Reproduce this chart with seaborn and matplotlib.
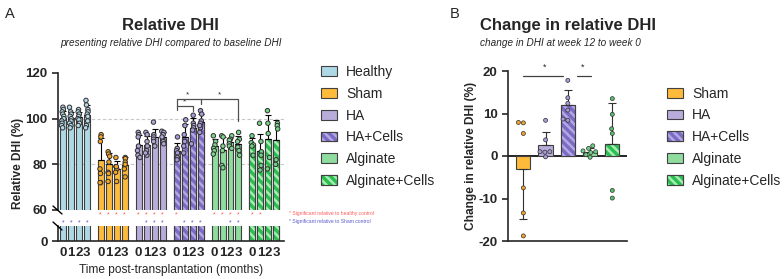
import numpy as np
import pandas as pd
import matplotlib
matplotlib.use('Agg')
import matplotlib.pyplot as plt
import matplotlib.transforms as mtrans
from matplotlib.patches import Patch, Rectangle
from matplotlib.lines import Line2D
from matplotlib.legend_handler import HandlerTuple
import seaborn as sns

# ---------------- data ----------------
groups = ['Healthy', 'Sham', 'HA', 'HA+Cells', 'Alginate', 'Alginate+Cells']
months = [0, 1, 2, 3]
month_labels = ['0', '1', '2', '3']

healthy = [[105, 104, 103, 102, 101, 100, 99, 98, 97, 96],
           [105, 103, 102, 101, 100, 99, 98, 97, 96],
           [104, 103, 102, 101, 100, 99.5, 98, 97],
           [108, 106, 104, 103, 102, 101, 99, 97, 96]]
sham = [[93, 92, 90, 78, 76, 72, 72],
        [85.5, 84.5, 83.5, 81, 76.5, 72.5, 76],
        [83, 79, 78, 76.5, 72.5, 79],
        [83, 82.5, 81, 80, 78, 74.5]]
ha = [[94, 93, 92, 88, 86, 84, 83],
      [94, 93, 90, 88, 86, 84, 85],
      [98.5, 93, 92, 91, 90, 88],
      [94.5, 94, 93, 91, 90, 92, 89]]
ha_cells = [[92, 87, 86, 85, 83, 82],
            [99.5, 97, 93, 90, 88, 85],
            [101.5, 98, 97, 96, 95, 89],
            [103.5, 102, 99, 98, 96, 94, 97]]
alginate = [[92.5, 90, 88.5, 87, 86, 84.5],
            [92.5, 92, 88, 86, 79.5, 78.5],
            [92.5, 91, 90.5, 89, 88, 87],
            [94, 91, 90, 87.5, 86, 84]]
alginate_cells = [[92.5, 89.5, 88.5, 88, 84],
                  [98, 90, 85.5, 84, 77.5, 79.5],
                  [103.5, 98, 93.5, 83, 78],
                  [98, 97, 95.5, 82, 80]]

# significance markers (month indices per group)
sig_vs_healthy = {'Sham': [0, 1, 2, 3], 'HA': [0, 1, 2, 3], 'HA+Cells': [0],
                  'Alginate': [0, 1, 2, 3], 'Alginate+Cells': [0, 1]}
sig_vs_sham = {'Healthy': [0, 1, 2, 3], 'HA': [1, 2, 3], 'HA+Cells': [1, 2, 3],
               'Alginate': [2, 3]}

b_groups = ['Sham', 'HA', 'HA+Cells', 'Alginate', 'Alginate+Cells']
b_sham = [7.8, 7.9, 5.3, -7.5, -13.4, -18.8]
b_ha = [8.4, 3.8, 1.0, 1.0, 0.9, -0.2]
b_ha_cells = [17.8, 13.7, 12.4, 10.8, 8.4, 8.7]
b_alginate = [2.4, 1.8, 1.2, 1.0, 0.8, 0.3, -0.3]
b_alginate_cells = [13.5, 9.8, 6.4, 5.3, -8.1, -9.9]

# ---------------- styles ----------------
bar_colors = {'Healthy': '#ADD8E6', 'Sham': '#FDBA3B', 'HA': '#B8ACDB',
              'HA+Cells': '#7C6BC4', 'Alginate': '#8FDC9E', 'Alginate+Cells': '#2BBF4F'}
hatch_colors = {'HA+Cells': '#B3A8E4', 'Alginate+Cells': '#A5EDB4'}
pt_colors_a = {'Healthy': '#B6D9E8', 'Sham': '#F5A623', 'HA': '#B3A6D8',
               'HA+Cells': '#A89BD8', 'Alginate': '#7FD58F', 'Alginate+Cells': '#6FD585'}
pt_colors_b = {'Sham': '#F0A52A', 'HA': '#A99CD6', 'HA+Cells': '#A99CD6',
               'Alginate': '#6FCF82', 'Alginate+Cells': '#56BE6C'}
EDGE = '#404040'
HATCH = '\\\\\\\\'
GROUP_STEP = 4.75

sns.set_style('ticks')
plt.rcParams['font.family'] = ['Liberation Sans', 'DejaVu Sans']
plt.rcParams['hatch.linewidth'] = 1.8
plt.rcParams['axes.linewidth'] = 1.2
plt.rcParams['axes.unicode_minus'] = False

# long-form tables
rows = []
for gi, (g, series) in enumerate(zip(groups, [healthy, sham, ha, ha_cells, alginate, alginate_cells])):
    for m, vals in zip(months, series):
        for v in vals:
            rows.append({'group': g, 'month': m, 'xpos': gi * GROUP_STEP + m, 'value': v})
df_a = pd.DataFrame(rows)

rows = []
for g, vals in zip(b_groups, [b_sham, b_ha, b_ha_cells, b_alginate, b_alginate_cells]):
    for v in vals:
        rows.append({'group': g, 'value': v})
df_b = pd.DataFrame(rows)

# ---------------- figure ----------------
W, H = 784, 279
fig = plt.figure(figsize=(W / 100, H / 100), dpi=100)


def box(l, t, r, b):
    return [l / W, 1 - b / H, (r - l) / W, (b - t) / H]


axT = fig.add_axes(box(58, 73, 284, 210))
axL = fig.add_axes(box(58, 226, 284, 241))
axC = fig.add_axes(box(508, 71, 627, 241))


def add_hatch(ax, patch, hcol):
    x, y = patch.get_xy()
    w, h = patch.get_width(), patch.get_height()
    ax.add_patch(Rectangle((x, y), w, h, fill=False, hatch=HATCH, edgecolor=hcol,
                           lw=0, zorder=2.1))
    ax.add_patch(Rectangle((x, y), w, h, fill=False, edgecolor=EDGE, lw=0.8, zorder=2.2))


# panel A bars on both axis segments
for ax in (axT, axL):
    sns.barplot(data=df_a, x='xpos', y='value', hue='group', hue_order=groups,
                palette=bar_colors, saturation=1, native_scale=True, errorbar=None, width=0.75,
                dodge=False, edgecolor=EDGE, linewidth=0.8, legend=False, ax=ax, zorder=2)
    for p in list(ax.patches):
        cx = p.get_x() + p.get_width() / 2
        gi = int(np.floor((cx + 0.5) / GROUP_STEP))
        g = groups[gi]
        if g in hatch_colors:
            add_hatch(ax, p, hatch_colors[g])

# error bars (mean + SD, upward)
stats_a = df_a.groupby(['group', 'month', 'xpos'], sort=False)['value'].agg(['mean', 'std']).reset_index()
axT.errorbar(stats_a['xpos'], stats_a['mean'],
             yerr=[np.zeros(len(stats_a)), stats_a['std']],
             fmt='none', ecolor='black', elinewidth=0.8, capsize=2, capthick=0.8, zorder=3)

np.random.seed(3)
sns.stripplot(data=df_a, x='xpos', y='value', hue='group', hue_order=groups,
              palette=pt_colors_a, native_scale=True, jitter=0.17, size=3.2,
              linewidth=0.7, edgecolor='#303030', legend=False, ax=axT, zorder=4)

xpos_all = [gi * GROUP_STEP + m for gi in range(len(groups)) for m in months]
for ax in (axT, axL):
    ax.set_xlim(-0.6, 27.7)
    ax.set_xlabel('')
    ax.set_ylabel('')
    for s in ['top', 'right']:
        ax.spines[s].set_visible(False)
    ax.tick_params(axis='y', length=4, width=1.2, labelsize=9.5)

axT.set_ylim(60, 120)
axT.set_yticks([60, 80, 100, 120])
axT.set_xticks([])
axT.spines['bottom'].set_visible(False)
for yv in (80, 100):
    axT.axhline(yv, color='#C8C8C8', lw=0.8, ls=(0, (3, 2)), zorder=0.5)

axL.set_ylim(0, 6.5)
axL.set_yticks([0])
axL.set_xticks(xpos_all)
axL.set_xticklabels(month_labels * len(groups))
axL.tick_params(axis='x', length=0, pad=4, labelsize=9.5)
for ax in (axT, axL):
    for lab in ax.get_yticklabels() + ax.get_xticklabels():
        lab.set_fontweight('bold')
axL.set_xlabel('Time post-transplantation (months)', fontsize=8.6, labelpad=4)

# break marks
for yp in (210, 226):
    fig.add_artist(Line2D([53 / W, 62 / W], [1 - (yp - 4) / H, 1 - (yp + 4) / H],
                          color='black', lw=1.0))

# significance stars in the axis gap
tr = mtrans.blended_transform_factory(axT.transData, fig.transFigure)
for g, ms in sig_vs_healthy.items():
    gi = groups.index(g)
    for m in ms:
        fig.text(gi * GROUP_STEP + m, 1 - 215 / H, '*', transform=tr, color='#FF5A5A',
                 fontsize=5, ha='center', va='center')
for g, ms in sig_vs_sham.items():
    gi = groups.index(g)
    for m in ms:
        fig.text(gi * GROUP_STEP + m, 1 - 222.5 / H, '*', transform=tr, color='#5A5ACD',
                 fontsize=5, ha='center', va='center')
fig.text(289 / W, 1 - 214 / H, '* Significant relative to healthy control', color='#FF5A5A',
         fontsize=3.6, va='center')
fig.text(289 / W, 1 - 221.5 / H, '* Significant relative to Sham control', color='#5A5ACD',
         fontsize=3.6, va='center')

# brackets in panel A
hc = groups.index('HA+Cells') * GROUP_STEP
al = groups.index('Alginate') * GROUP_STEP
bk = dict(color='#505050', lw=0.9, zorder=5, clip_on=False)
axT.plot([hc + 0, hc + 0, hc + 3, hc + 3], [104.0, 108.6, 108.6, 106.5], **bk)
axT.plot([hc + 0, hc + 2, hc + 2], [105.6, 105.6, 103.4], **bk)
axT.plot([hc + 3, al + 3, al + 3], [108.6, 108.6, 98.8], **bk)
for xs, ys in [(hc + 1.4, 110.6), (hc + 1.0, 107.4), ((hc + 3 + al + 3) / 2, 110.6)]:
    axT.text(xs, ys, '*', ha='center', va='center', fontsize=6, color='#303030')

# ---------------- panel B ----------------
sns.barplot(data=df_b, x='group', y='value', hue='group', order=b_groups, hue_order=b_groups,
            palette=bar_colors, saturation=1, errorbar=None, width=0.64, edgecolor=EDGE,
            linewidth=0.8, legend=False, ax=axC, zorder=2)
for p in list(axC.patches):
    gi = int(round(p.get_x() + p.get_width() / 2))
    g = b_groups[gi]
    if g in hatch_colors:
        add_hatch(axC, p, hatch_colors[g])

stats_b = df_b.groupby('group', sort=False)['value'].agg(['mean', 'std']).reindex(b_groups)
lo = np.where(stats_b['mean'] < 0, stats_b['std'], 0)
hi = np.where(stats_b['mean'] >= 0, stats_b['std'], 0)
axC.errorbar(np.arange(len(b_groups)), stats_b['mean'], yerr=[lo, hi], fmt='none',
             ecolor='#303030', elinewidth=0.8, capsize=3, capthick=0.8, zorder=3)
sns.swarmplot(data=df_b, x='group', y='value', hue='group', order=b_groups, hue_order=b_groups,
              palette=pt_colors_b, size=2.9, linewidth=0.5, edgecolor='#303030',
              legend=False, ax=axC, zorder=4)
axC.axhline(0, color='black', lw=1.2, zorder=1.5)
axC.set_ylim(-20, 20)
axC.set_yticks([-20, -10, 0, 10, 20])
axC.set_xlim(-0.69, 4.66)
axC.set_xticks([])
axC.set_xlabel('')
axC.set_ylabel('')
for s in ['top', 'right']:
    axC.spines[s].set_visible(False)
axC.tick_params(axis='y', length=4, width=1.2, labelsize=9.5)
for lab in axC.get_yticklabels():
    lab.set_fontweight('bold')
bkb = dict(color='#404040', lw=0.9, clip_on=False, zorder=5)
axC.plot([0, 1.8], [18.9, 18.9], **bkb)
axC.plot([2.4, 3.03], [18.9, 18.9], **bkb)
axC.text(0.94, 21.0, '*', ha='center', va='center', fontsize=6.5, clip_on=False)
axC.text(2.65, 21.0, '*', ha='center', va='center', fontsize=6.5, clip_on=False)

# ---------------- texts ----------------
fig.text(10 / W, 1 - 18.3 / H, 'A', fontsize=10.5, ha='center', va='baseline')
fig.text(170 / W, 1 - 30 / H, 'Relative DHI', fontsize=12, fontweight='bold', ha='center', va='baseline')
fig.text(171 / W, 1 - 46.5 / H, 'presenting relative DHI compared to baseline DHI',
         fontsize=7.2, style='italic', ha='center', va='baseline')
fig.text(455 / W, 1 - 18.3 / H, 'B', fontsize=10.5, ha='center', va='baseline')
fig.text(480 / W, 1 - 30 / H, 'Change in relative DHI', fontsize=12, fontweight='bold',
         ha='left', va='baseline')
fig.text(480 / W, 1 - 46 / H, 'change in DHI at week 12 to week 0', fontsize=7.2,
         style='italic', ha='left', va='baseline')
fig.text(18 / W, 1 - 163 / H, 'Relative DHI (%)', rotation=90, fontsize=8.6,
         fontweight='bold', ha='center', va='center')
fig.text(471 / W, 1 - 156 / H, 'Change in relative DHI (%)', rotation=90, fontsize=8.6,
         fontweight='bold', ha='center', va='center')


# ---------------- legends ----------------
def make_handle(g):
    base = Patch(facecolor=bar_colors[g], edgecolor=EDGE, lw=0.8)
    if g in hatch_colors:
        return (base, Patch(facecolor='none', edgecolor=hatch_colors[g], hatch=HATCH, lw=0),
                Patch(facecolor='none', edgecolor=EDGE, lw=0.8))
    return (base,)


def add_legend(glist, x, ytop):
    leg = fig.legend([make_handle(g) for g in glist], glist, loc='upper left',
                     bbox_to_anchor=(x / W, 1 - ytop / H), frameon=False, borderpad=0,
                     borderaxespad=0, fontsize=10, handlelength=1.15, handleheight=0.7,
                     handletextpad=0.65, labelspacing=0.56,
                     handler_map={tuple: HandlerTuple(ndivide=1, pad=0)})
    return leg


add_legend(groups, 321, 65)
add_legend(b_groups, 667, 86.5)

fig.savefig('out.png', dpi=100)
